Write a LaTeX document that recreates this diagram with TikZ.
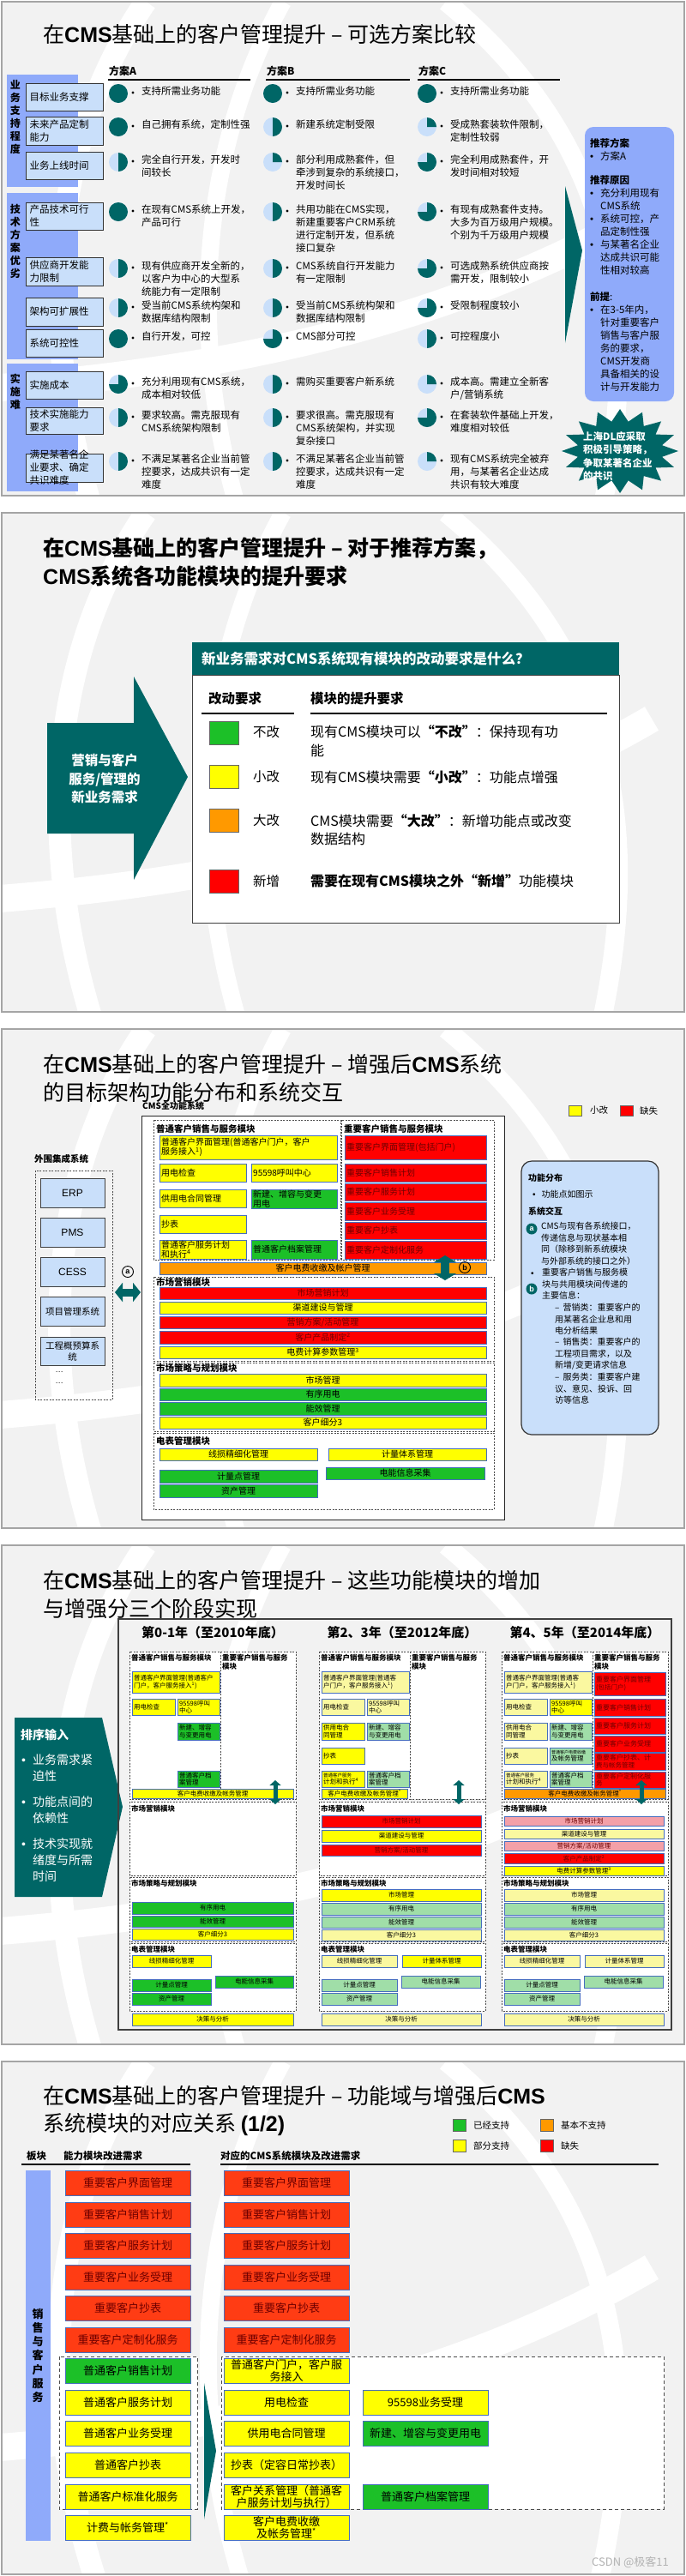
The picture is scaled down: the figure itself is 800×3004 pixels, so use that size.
\documentclass[tikz,border=0pt]{standalone}
\usepackage{fontspec}
\setmainfont{Noto Sans CJK SC}
\newfontfamily\arialf{Liberation Sans}
\usetikzlibrary{arrows.meta}
\definecolor{tl}{RGB}{0,102,102}
\definecolor{slidebg}{RGB}{242,242,242}
\definecolor{slideln}{RGB}{165,165,165}
\definecolor{peri}{RGB}{143,170,250}
\definecolor{lb}{RGB}{201,223,250}
\definecolor{yl}{RGB}{255,255,0}
\definecolor{gr}{RGB}{28,192,40}
\definecolor{rd}{RGB}{255,0,0}
\definecolor{org}{RGB}{255,153,0}
\definecolor{ror}{RGB}{255,60,20}
\definecolor{pyl}{RGB}{250,248,160}
\definecolor{pgr}{RGB}{160,222,168}
\definecolor{prd}{RGB}{244,160,168}
\definecolor{bbd}{RGB}{70,110,190}
\definecolor{rdt}{RGB}{110,0,0}
\newcommand\fz[2]{\fontsize{#1}{#2}\selectfont}
\newcommand\bul{{\arialf\textbullet}}
\newcommand\cms{{\arialf\bfseries CMS}}
\newcommand\mifont{\fz{10}{11}}
\newcommand\hbx[4]{\coordinate (#1) at (#2,#3);\fill[lb] (#1) circle (11);%
\ifcase#4\or\fill[tl] (#1) -- ++(0,-11) arc(-90:0:11) -- cycle;%
\or\fill[tl] (#1) -- ++(0,-11) arc(-90:90:11) -- cycle;%
\or\fill[tl] (#1) -- ++(0,-11) arc(-90:180:11) -- cycle;%
\or\fill[tl] (#1) circle (11);\fi}
\newcommand\opt[5]{\hbx{#1b}{#2}{#3}{#4}\fill ({#2+17},{#3-1}) circle (1.6);%
\node[body,anchor=north west] (#1) at ({#2+27},{#3-8}) {#5};}
\newcommand\crit[4]{\node[critbox,minimum height={#3-#2}] (#1) at (75,{(#2+#3)/2}) {};%
\node[crittxt,anchor=west] (#1t) at ([xshift=5]#1.west) {#4};}
\newcommand\bx[8]{\node[mibox,#2,minimum width={#5-#3},minimum height={#6-#4}] (#1) at ({(#3+#5)/2},{(#4+#6)/2}) {};%
\if l#8\node[mitxt,#2,fill=none,draw=none,anchor=west] (#1t) at ([xshift=2]#1.west) {#7};%
\else\node[mitxt,#2,fill=none,draw=none,align=center] (#1t) at (#1.center) {#7};\fi}
\newcommand\phaseframe[1]{%
\draw[dmod] (0,1926) rectangle (106,2098);
\draw[dmod] (106,1926) rectangle (194,2098);
\draw[dmod] (0,2101) rectangle (194,2187);
\draw[dmod] (0,2189) rectangle (194,2264);
\draw[dmod] (0,2266) rectangle (194,2345);
\node[mt4] (#1m1) at (2,1929) {普通客户销售与服务模块};
\node[mt4] (#1m2) at (108,1929) {重要客户销售与服务\\模块};
\node[mt4] (#1m3) at (2,2105) {市场营销模块};
\node[mt4] (#1m4) at (2,2192) {市场策略与规划模块};
\node[mt4] (#1m5) at (2,2269) {电表管理模块};}
\begin{document}
\begin{tikzpicture}[x=1pt,y=-1pt,
 ttl/.style={font=\fz{25}{32},inner sep=0,anchor=west},
 body/.style={font=\fz{11.5}{15},inner sep=0,align=left},
 hdr/.style={font=\bfseries\fz{12}{14},inner sep=0,anchor=west},
 vt/.style={font=\bfseries\fz{12}{15},inner sep=0,align=center,anchor=north},
 critbox/.style={draw=black!80,line width=1,fill=lb,minimum width=90,inner sep=0},
 crittxt/.style={font=\fz{11.5}{15},inner sep=0,align=left},
 mibox/.style={draw=bbd,line width=0.7,inner sep=0,outer sep=0},
 mitxt/.style={font=\mifont,inner sep=0,align=left},
 dmod/.style={draw=black!70,line width=0.7,dash pattern=on 2pt off 1.5pt,fill=white},
 dmodn/.style={draw=black!70,line width=0.7,dash pattern=on 2pt off 1.5pt},
 mt3/.style={font=\bfseries\fz{10.5}{12},inner sep=0,anchor=west},
 mt4/.style={font=\bfseries\fz{8.5}{10},inner sep=0,align=left,anchor=north west},
 sw/.style={draw=black!60,line width=0.6,inner sep=0},
 lgt/.style={font=\fz{10.5}{12},inner sep=0,anchor=west},
 ib/.style={font=\fz{10}{13.5},inner sep=0,align=left},
 ph/.style={font=\bfseries\fz{15}{18},inner sep=0},
 cY/.style={fill=yl}, cG/.style={fill=gr}, cR/.style={fill=rd,text=rdt}, cO/.style={fill=org},
 cPY/.style={fill=pyl}, cPG/.style={fill=pgr}, cPR/.style={fill=prd,text=rdt}, cRO/.style={fill=ror,text=rdt},
 dblh/.style={draw=tl,line width=9,{Triangle[length=9pt,width=22pt]}-{Triangle[length=9pt,width=22pt]}},
 dblb/.style={draw=tl,line width=10,{Triangle[length=8pt,width=26pt]}-{Triangle[length=8pt,width=26pt]}},
 dblv/.style={draw=tl,line width=5,{Triangle[length=6pt,width=13pt]}-{Triangle[length=6pt,width=13pt]}}
]
\useasboundingbox (0,0) rectangle (800,3004);
\fill[white] (0,0) rectangle (800,3004);
% ---------- slide backgrounds ----------
\foreach \ta/\tb in {2/578,598/1180,1200/1782,1802/2384,2404/3002}{
 \fill[slidebg] (2,\ta) rectangle (798,\tb);
 \begin{scope}
 \clip (2,\ta) rectangle (798,\tb);
 \draw[white,line width=26] (170,\ta) .. controls (60,{\ta+160}) and (40,{\ta+380}) .. (110,{\ta+600});
 \draw[white,line width=20] (330,\ta) .. controls (230,{\ta+180}) and (220,{\ta+400}) .. (280,{\ta+600});
 \draw[white,line width=32] (0,{\ta+450}) .. controls (250,{\ta+430}) and (520,{\ta+380}) .. (760,{\ta+240});
 \draw[white,line width=22] (520,\ta) .. controls (690,{\ta+140}) and (760,{\ta+330}) .. (700,{\ta+600});
 \end{scope}
 \draw[slideln,line width=2] (2,\ta) rectangle (798,\tb);
}
% =============== SLIDE 1 ===============
\node[ttl] (t1) at (50,40) {在\cms 基础上的客户管理提升 – 可选方案比较};
\node[hdr] (hA) at (127,83) {方案A};
\node[hdr] (hB) at (311,83) {方案B};
\node[hdr] (hC) at (488,83) {方案C};
\draw[line width=1.3] (126,93) -- (292,93);
\draw[line width=1.3] (310,93) -- (478,93);
\draw[line width=1.3] (487,93) -- (653,93);
\fill[peri] (8,87) rectangle (91,218);
\fill[peri] (8,225) rectangle (91,419);
\fill[peri] (8,424) rectangle (91,573);
\node[vt] (g1) at (18,93) {业\\务\\支\\持\\程\\度};
\node[vt] (g2) at (18,238) {技\\术\\方\\案\\优\\劣};
\node[vt] (g3) at (18,436) {实\\施\\难};
\crit{k1}{97}{129}{目标业务支撑}
\crit{k2}{136}{169}{未来产品定制\\能力}
\crit{k3}{177}{209}{业务上线时间}
\crit{k4}{236}{268}{产品技术可行\\性}
\crit{k5}{300}{333}{供应商开发能\\力限制}
\crit{k6}{347}{380}{架构可扩展性}
\crit{k7}{384}{416}{系统可控性}
\crit{k8}{433}{465}{实施成本}
\crit{k9}{475}{506}{技术实施能力\\要求}
\node[critbox,minimum height=33] (k10) at (75,545.5) {};
\node[crittxt,anchor=west] (k10t) at ([xshift=5]k10.west) {满足某著名企\\业要求、确定\\共识难度};
\opt{a1}{138}{109}{4}{支持所需业务功能}
\opt{b1}{318}{109}{4}{支持所需业务功能}
\opt{c1}{498}{109}{4}{支持所需业务功能}
\opt{a2}{138}{148}{4}{自己拥有系统，定制性强}
\opt{b2}{318}{148}{2}{新建系统定制受限}
\opt{c2}{498}{148}{1}{受成熟套装软件限制，\\定制性较弱}
\opt{a3}{138}{189}{2}{完全自行开发，开发时\\间较长}
\opt{b3}{318}{189}{1}{部分利用成熟套件，但\\牵涉到复杂的系统接口，\\开发时间长}
\opt{c3}{498}{189}{3}{完全利用成熟套件，开\\发时间相对较短}
\opt{a4}{138}{247}{4}{在现有CMS系统上开发，\\产品可行}
\opt{b4}{318}{247}{2}{共用功能在CMS实现，\\新建重要客户CRM系统\\进行定制开发，但系统\\接口复杂}
\opt{c4}{498}{247}{3}{有现有成熟套件支持。\\大多为百万级用户规模。\\个别为千万级用户规模}
\opt{a5}{138}{313}{2}{现有供应商开发全新的，\\以客户为中心的大型系\\统能力有一定限制}
\opt{b5}{318}{313}{2}{CMS系统自行开发能力\\有一定限制}
\opt{c5}{498}{313}{3}{可选成熟系统供应商按\\需开发，限制较小}
\opt{a6}{138}{359}{2}{受当前CMS系统构架和\\数据库结构限制}
\opt{b6}{318}{359}{2}{受当前CMS系统构架和\\数据库结构限制}
\opt{c6}{498}{359}{3}{受限制程度较小}
\opt{a7}{138}{395}{4}{自行开发，可控}
\opt{b7}{318}{395}{3}{CMS部分可控}
\opt{c7}{498}{395}{2}{可控程度小}
\opt{a8}{138}{448}{3}{充分利用现有CMS系统，\\成本相对较低}
\opt{b8}{318}{448}{2}{需购买重要客户新系统}
\opt{c8}{498}{448}{1}{成本高。需建立全新客\\户/营销系统}
\opt{a9}{138}{487}{2}{要求较高。需克服现有\\CMS系统架构限制}
\opt{b9}{318}{487}{2}{要求很高。需克服现有\\CMS系统架构，并实现\\复杂接口}
\opt{c9}{498}{487}{3}{在套装软件基础上开发，\\难度相对较低}
\opt{a10}{138}{538}{2}{不满足某著名企业当前管\\控要求，达成共识有一定\\难度}
\opt{b10}{318}{538}{2}{不满足某著名企业当前管\\控要求，达成共识有一定\\难度}
\opt{c10}{498}{538}{1}{现有CMS系统完全被弃\\用，与某著名企业达成\\共识有较大难度}
\fill[tl] (659,217) -- (679,292) -- (659,400) -- cycle;
\node[fill=peri,rounded corners=10,minimum width=104,minimum height=320,inner sep=0] (rec) at (734,308) {};
\node[body,anchor=north west] (rect) at (688,161) {\textbf{推荐方案}\\
\makebox[12pt][l]{\bul}方案A\\[13pt]
\textbf{推荐原因}\\
\makebox[12pt][l]{\bul}充分利用现有\\
\hspace*{12pt}CMS系统\\
\makebox[12pt][l]{\bul}系统可控，产\\
\hspace*{12pt}品定制性强\\
\makebox[12pt][l]{\bul}与某著名企业\\
\hspace*{12pt}达成共识可能\\
\hspace*{12pt}性相对较高\\[16pt]
\textbf{前提}:\\
\makebox[12pt][l]{\bul}在3-5年内，\\
\hspace*{12pt}针对重要客户\\
\hspace*{12pt}销售与客户服\\
\hspace*{12pt}务的要求，\\
\hspace*{12pt}CMS开发商\\
\hspace*{12pt}具备相关的设\\
\hspace*{12pt}计与开发能力};
\fill[tl] plot[variable=\k,samples at={0,...,31}] ({723+(mod(\k,2)==0?68:50)*cos(\k*11.25)},{526+(mod(\k,2)==0?49:35)*sin(\k*11.25)}) -- cycle;
\node[font=\bfseries\fz{11.5}{15.5},text=white,inner sep=0,align=left,anchor=north west] (star) at (680,503) {上海DL应采取\\积极引导策略，\\争取某著名企业\\的共识};
% =============== SLIDE 2 ===============
\node[ttl,font=\bfseries\fz{25}{32}] (t2a) at (50,640) {在\cms 基础上的客户管理提升 – 对于推荐方案，};
\node[ttl,font=\bfseries\fz{25}{32}] (t2b) at (50,672) {\cms 系统各功能模块的提升要求};
\fill[tl] (55,843) -- (156,843) -- (156,789) -- (219,906) -- (156,1026) -- (156,972) -- (55,972) -- cycle;
\node[font=\bfseries\fz{15.5}{21.5},text=white,align=center,inner sep=0] (arr2) at (122,908) {营销与客户\\服务/管理的\\新业务需求};
\node[fill=tl,minimum width=498,minimum height=38,inner sep=0] (h2) at (473,768) {};
\node[font=\bfseries\fz{16.5}{18},text=white,inner sep=0,anchor=west] (h2t) at (235,768) {新业务需求对CMS系统现有模块的改动要求是什么？};
\node[draw=black!75,line width=1,fill=white,minimum width=498,minimum height=289,inner sep=0] (b2) at (473,931.5) {};
\node[font=\bfseries\fz{15.5}{18},inner sep=0,anchor=west] (c2a) at (243,815) {改动要求};
\node[font=\bfseries\fz{15.5}{18},inner sep=0,anchor=west] (c2b) at (362,815) {模块的提升要求};
\draw[line width=1.5] (235,832) -- (343,832);
\draw[line width=1.5] (362,832) -- (708,832);
\node[sw,fill=gr,minimum width=34,minimum height=27] (q1) at (261,854.5) {};
\node[font=\fz{15.5}{18},inner sep=0,anchor=west] (q1l) at (295,854) {不改};
\node[font=\fz{16}{22},inner sep=0,anchor=north west,align=left] (q1t) at (362,845) {现有CMS模块可以\textbf{“不改”}：保持现有功\\能};
\node[sw,fill=yl,minimum width=34,minimum height=27] (q2) at (261,906) {};
\node[font=\fz{15.5}{18},inner sep=0,anchor=west] (q2l) at (295,906) {小改};
\node[font=\fz{16}{22},inner sep=0,anchor=north west,align=left] (q2t) at (362,898) {现有CMS模块需要\textbf{“小改”}：功能点增强};
\node[sw,fill=org,minimum width=34,minimum height=27] (q3) at (261,956.5) {};
\node[font=\fz{15.5}{18},inner sep=0,anchor=west] (q3l) at (295,957) {大改};
\node[font=\fz{16}{21},inner sep=0,anchor=north west,align=left] (q3t) at (362,949) {CMS模块需要\textbf{“大改”}：新增功能点或改变\\数据结构};
\node[sw,fill=rd,minimum width=34,minimum height=27] (q4) at (261,1027.5) {};
\node[font=\fz{15.5}{18},inner sep=0,anchor=west] (q4l) at (295,1028) {新增};
\node[font=\fz{16}{22},inner sep=0,anchor=north west,align=left] (q4t) at (362,1019) {\textbf{需要在现有CMS模块之外“新增”}功能模块};
% =============== SLIDE 3 ===============
\renewcommand\mifont{\fz{10}{11}}
\node[ttl] (t3a) at (50,1241) {在\cms 基础上的客户管理提升 – 增强后\cms 系统};
\node[ttl] (t3b) at (50,1274) {的目标架构功能分布和系统交互};
\node[sw,fill=yl,minimum width=15,minimum height=12] (lg1) at (670.5,1295) {};
\node[lgt] (lg1t) at (688,1295) {小改};
\node[sw,fill=rd,minimum width=15,minimum height=12] (lg2) at (730.5,1295) {};
\node[lgt] (lg2t) at (746,1295) {缺失};
\node[mt3] (ext) at (40,1351) {外围集成系统};
\draw[dmodn] (41,1365) rectangle (131,1632);
\node[draw=black!75,line width=1,fill=lb,minimum width=75,minimum height=34,inner sep=0,font=\arialf\fz{12}{13}] (erp) at (84.5,1391.5) {ERP};
\node[draw=black!75,line width=1,fill=lb,minimum width=75,minimum height=34,inner sep=0,font=\arialf\fz{12}{13}] (pms) at (84.5,1437) {PMS};
\node[draw=black!75,line width=1,fill=lb,minimum width=75,minimum height=34,inner sep=0,font=\arialf\fz{12}{13}] (cess) at (84.5,1483) {CESS};
\node[draw=black!75,line width=1,fill=lb,minimum width=75,minimum height=34,inner sep=0,font=\fz{10.5}{12}] (xm) at (84.5,1529) {项目管理系统};
\node[draw=black!75,line width=1,fill=lb,minimum width=75,minimum height=33,inner sep=0,font=\fz{10.5}{13},align=center] (gc) at (84.5,1575.5) {工程概预算系\\统};
\node[font=\fz{8}{8},inner sep=0] (dot1) at (69,1600) {…};
\node[font=\fz{8}{8},inner sep=0] (dot2) at (69,1613) {…};
\node[circle,draw,line width=0.9,inner sep=0,minimum size=13,font=\arialf\bfseries\fz{9}{9}] (ca) at (149,1483) {a};
\coordinate (aL) at (134,1507); \coordinate (aR) at (164,1507);
\draw[dblh] (aL) -- (aR);
\node[font=\bfseries\fz{10}{11},inner sep=0,anchor=west] (cmsl) at (166,1290) {CMS全功能系统};
\node[draw=black!85,line width=1,fill=white,minimum width=423,minimum height=471,inner sep=0] (cms) at (376.5,1536.5) {};
\draw[dmod] (179,1306) rectangle (397,1469);
\draw[dmod] (398,1306) rectangle (576,1469);
\node[mt3] (m31) at (182,1316) {普通客户销售与服务模块};
\node[mt3] (m32) at (401,1316) {重要客户销售与服务模块};
\bx{s3a}{cY}{186}{1324}{393}{1352}{普通客户界面管理(普通客户门户，客户\\服务接入\textsuperscript{1})}{l}
\bx{s3b}{cY}{186}{1357}{287}{1378}{用电检查}{l}
\bx{s3c}{cY}{293}{1357}{393}{1378}{95598呼叫中心}{l}
\bx{s3d}{cY}{186}{1387}{287}{1408}{供用电合同管理}{l}
\bx{s3e}{cG}{293}{1387}{393}{1409}{新建、增容与变更\\用电}{l}
\bx{s3f}{cY}{186}{1417}{287}{1438}{抄表}{l}
\bx{s3g}{cY}{186}{1446}{287}{1468}{普通客户服务计划\\和执行\textsuperscript{4}}{l}
\bx{s3h}{cG}{293}{1446}{393}{1468}{普通客户档案管理}{l}
\bx{s3i}{cR}{402}{1324}{567}{1352}{重要客户界面管理(包括门户)}{l}
\bx{s3j}{cR}{402}{1357}{567}{1378}{重要客户销售计划}{l}
\bx{s3k}{cR}{402}{1380}{567}{1400}{重要客户服务计划}{l}
\bx{s3l}{cR}{402}{1402}{567}{1423}{重要客户业务受理}{l}
\bx{s3m}{cR}{402}{1425}{567}{1445}{重要客户抄表}{l}
\bx{s3n}{cR}{402}{1447}{567}{1468}{重要客户定制化服务}{l}
\bx{s3o}{cO}{186}{1472}{567}{1486}{客户电费收缴及帐户管理}{c}
\draw[dmod] (179,1489) rectangle (576,1587);
\node[mt3] (m33) at (182,1495) {市场营销模块};
\bx{s3p}{cR}{186}{1501}{567}{1515}{市场营销计划}{c}
\bx{s3q}{cY}{186}{1518}{567}{1532}{渠道建设与管理}{c}
\bx{s3r}{cR}{186}{1535}{567}{1549}{营销方案/活动管理}{c}
\bx{s3s}{cR}{186}{1552}{567}{1567}{客户产品制定\textsuperscript{2}}{c}
\bx{s3t}{cY}{186}{1570}{567}{1584}{电费计算参数管理\textsuperscript{3}}{c}
\draw[dmod] (179,1589) rectangle (576,1669);
\node[mt3] (m34) at (182,1595) {市场策略与规划模块};
\bx{s3u}{cY}{186}{1602}{567}{1617}{市场管理}{c}
\bx{s3v}{cG}{186}{1619}{567}{1633}{有序用电}{c}
\bx{s3w}{cG}{186}{1635}{567}{1650}{能效管理}{c}
\bx{s3x}{cY}{186}{1652}{567}{1666}{客户细分3}{c}
\draw[dmod] (179,1671) rectangle (576,1760);
\node[mt3] (m35) at (182,1680) {电表管理模块};
\bx{s3y}{cY}{186}{1689}{370}{1703}{线损精细化管理}{c}
\bx{s3z}{cY}{383}{1689}{567}{1703}{计量体系管理}{c}
\bx{s3aa}{cG}{186}{1714}{370}{1729}{计量点管理}{c}
\bx{s3ab}{cG}{380}{1711}{565}{1725}{电能信息采集}{c}
\bx{s3ac}{cG}{186}{1731}{370}{1746}{资产管理}{c}
\coordinate (bT) at (519,1464); \coordinate (bB) at (519,1493);
\draw[dblb] (bT) -- (bB);
\node[circle,draw,line width=0.9,inner sep=0,minimum size=13,font=\arialf\bfseries\fz{9}{9}] (cb) at (542,1478) {b};
\node[draw=black!80,line width=1.2,fill=lb,rounded corners=12,minimum width=160,minimum height=319,inner sep=0] (info) at (688,1513.5) {};
\node[ib,anchor=west] (i1) at (616,1374) {\textbf{功能分布}};
\node[ib,anchor=west] (i2) at (621,1393) {\bul\hspace{7pt}功能点如图示};
\node[ib,anchor=west] (i3) at (616,1413) {\textbf{系统交互}};
\node[circle,fill=tl,text=white,inner sep=0,minimum size=13,font=\arialf\bfseries\fz{9}{9}] (ia) at (620,1433) {a};
\node[ib,anchor=north west] (i4) at (631,1425) {CMS与现有各系统接口，\\传递信息与现状基本相\\同（除移到新系统模块\\与外部系统的接口之外）};
\node[ib,anchor=west] (i5b) at (619,1486) {\bul};
\node[circle,fill=tl,text=white,inner sep=0,minimum size=13,font=\arialf\bfseries\fz{9}{9}] (ib2) at (620,1503) {b};
\node[ib,anchor=north west] (i5) at (632,1479) {重要客户销售与服务模\\块与共用模块间传递的\\主要信息：};
\node[ib,anchor=north west] (i6) at (647,1520) {–\hspace{4pt}营销类：重要客户的\\用某著名企业息和用\\电分析结果};
\node[ib,anchor=north west] (i7) at (647,1560) {–\hspace{4pt}销售类：重要客户的\\工程项目需求，以及\\新增/变更请求信息};
\node[ib,anchor=north west] (i8) at (647,1601) {–\hspace{4pt}服务类：重要客户建\\议、意见、投诉、回\\访等信息};
% =============== SLIDE 4 ===============
\renewcommand\mifont{\fz{7.5}{8.5}}
\node[ttl] (t4a) at (50,1843) {在\cms 基础上的客户管理提升 – 这些功能模块的增加};
\node[ttl] (t4b) at (50,1876) {与增强分三个阶段实现};
\fill[tl] (17,2003) -- (119,2003) -- (143,2107) -- (119,2212) -- (17,2212) -- cycle;
\node[font=\bfseries\fz{14}{16},text=white,inner sep=0,anchor=west] (s4h) at (24,2023) {排序输入};
\node[font=\fz{14}{19},text=white,inner sep=0,align=left,anchor=north west] (s4b) at (25,2045) {\makebox[13pt][l]{\bul}业务需求紧\\\hspace*{13pt}迫性\\[11pt]\makebox[13pt][l]{\bul}功能点间的\\\hspace*{13pt}依赖性\\[11pt]\makebox[13pt][l]{\bul}技术实现就\\\hspace*{13pt}绪度与所需\\\hspace*{13pt}时间};
\node[draw=black!75,line width=1.2,minimum width=645,minimum height=479,inner sep=0] (s4box) at (460.5,2127.5) {};
\begin{scope}[xshift=151]
\phaseframe{p1}
\node[ph] (p1hd) at (97,1904) {第0-1年（至2010年底）};
\bx{p1a}{cY}{3}{1949}{105}{1974}{普通客户界面管理(普通客户\\门户，客户服务接入\textsuperscript{1})}{l}
\bx{p1b}{cY}{3}{1981}{53}{2000}{用电检查}{l}
\bx{p1c}{cY}{56}{1981}{105}{2000}{95598呼叫\\中心}{l}
\bx{p1d}{cG}{56}{2009}{105}{2029}{新建、增容\\与变更用电}{l}
\bx{p1e}{cG}{56}{2065}{105}{2084}{普通客户档\\案管理}{l}
\bx{p1f}{cY}{3}{2086}{191}{2097}{客户电费收缴及帐务管理}{c}
\coordinate (p1u) at (170,2076); \coordinate (p1w) at (170,2104);
\draw[dblv] (p1u) -- (p1w);
\bx{p1g}{cG}{3}{2218}{191}{2232}{有序用电}{c}
\bx{p1h}{cG}{3}{2234}{191}{2247}{能效管理}{c}
\bx{p1i}{cY}{3}{2249}{191}{2262}{客户细分3}{c}
\bx{p1j}{cY}{3}{2280}{95}{2294}{线损精细化管理}{c}
\bx{p1k}{cG}{3}{2308}{95}{2322}{计量点管理}{c}
\bx{p1l}{cG}{3}{2324}{95}{2338}{资产管理}{c}
\bx{p1m}{cG}{100}{2304}{191}{2318}{电能信息采集}{c}
\bx{p1n}{cY}{3}{2348}{191}{2362}{决策与分析}{c}
\end{scope}
\begin{scope}[xshift=372]
\phaseframe{p2}
\node[ph] (p2hd) at (97,1904) {第2、3年（至2012年底）};
\bx{p2a}{cPY}{3}{1949}{105}{1974}{普通客户界面管理(普通客\\户门户，客户服务接入\textsuperscript{1})}{l}
\bx{p2b}{cPY}{3}{1981}{53}{2000}{用电检查}{l}
\bx{p2c}{cPY}{56}{1981}{105}{2000}{95598呼叫\\中心}{l}
\bx{p2d}{cY}{3}{2009}{53}{2029}{供用电合\\同管理}{l}
\bx{p2e}{cPG}{56}{2009}{105}{2029}{新建、增容\\与变更用电}{l}
\bx{p2f}{cY}{3}{2038}{53}{2057}{抄表}{l}
\bx{p2g}{cY}{3}{2065}{53}{2084}{\fz{5.5}{6.5}普通客户服务\\计划和执行\textsuperscript{4}}{l}
\bx{p2h}{cPG}{56}{2065}{105}{2084}{普通客户档\\案管理}{l}
\bx{p2i}{cY}{3}{2086}{103}{2097}{客户电费收缴及帐务管理\textsuperscript{*}}{c}
\coordinate (p2u) at (163,2076); \coordinate (p2w) at (163,2104);
\draw[dblv] (p2u) -- (p2w);
\bx{p2j}{cR}{3}{2117}{189}{2131}{市场营销计划}{c}
\bx{p2k}{cY}{3}{2134}{189}{2148}{渠道建设与管理}{c}
\bx{p2l}{cR}{3}{2151}{189}{2164}{营销方案/活动管理}{c}
\bx{p2m}{cY}{3}{2203}{189}{2217}{市场管理}{c}
\bx{p2n}{cPG}{3}{2219}{189}{2233}{有序用电}{c}
\bx{p2o}{cPG}{3}{2235}{189}{2248}{能效管理}{c}
\bx{p2p}{cPY}{3}{2250}{189}{2263}{客户细分3}{c}
\bx{p2q}{cPY}{3}{2280}{91}{2294}{线损精细化管理}{c}
\bx{p2r}{cY}{97}{2280}{189}{2294}{计量体系管理}{c}
\bx{p2s}{cPG}{3}{2308}{91}{2322}{计量点管理}{c}
\bx{p2t}{cPG}{3}{2324}{91}{2338}{资产管理}{c}
\bx{p2v}{cPG}{96}{2304}{188}{2318}{电能信息采集}{c}
\bx{p2w2}{cPY}{3}{2348}{189}{2362}{决策与分析}{c}
\end{scope}
\begin{scope}[xshift=585]
\phaseframe{p3}
\node[ph] (p3hd) at (97,1904) {第4、5年（至2014年底）};
\bx{p3a}{cPY}{3}{1949}{105}{1974}{普通客户界面管理(普通客\\户门户，客户服务接入\textsuperscript{1})}{l}
\bx{p3b}{cPY}{3}{1981}{53}{2000}{用电检查}{l}
\bx{p3c}{cY}{56}{1981}{105}{2000}{95598呼叫\\中心}{l}
\bx{p3d}{cPY}{3}{2009}{53}{2029}{供用电合\\同管理}{l}
\bx{p3e}{cPG}{56}{2009}{105}{2029}{新建、增容\\与变更用电}{l}
\bx{p3f}{cPY}{3}{2038}{53}{2057}{抄表}{l}
\bx{p3g}{cPG}{56}{2038}{105}{2057}{\fz{5}{6}普通客户电费收缴\\及帐务管理}{l}
\bx{p3h}{cPY}{3}{2065}{53}{2084}{\fz{5.5}{6.5}普通客户服务\\计划和执行\textsuperscript{4}}{l}
\bx{p3i}{cPG}{56}{2065}{105}{2084}{普通客户档\\案管理}{l}
\bx{p3k}{cR}{108}{1950}{191}{1977}{\fz{8}{9}重要客户界面管理\\(包括门户)}{l}
\bx{p3l}{cR}{108}{1981}{191}{2001}{\fz{8}{9}重要客户销售计划}{l}
\bx{p3m}{cR}{108}{2003}{191}{2022}{\fz{8}{9}重要客户服务计划}{l}
\bx{p3n}{cR}{108}{2024}{191}{2043}{\fz{8}{9}重要客户业务受理}{l}
\bx{p3o}{cR}{108}{2044}{191}{2064}{\fz{8}{9}重要客户抄表、计\\费与帐务管理}{l}
\bx{p3p}{cR}{108}{2066}{191}{2085}{\fz{8}{9}重要客户定制化服\\务}{l}
\bx{p3j}{cO}{3}{2086}{191}{2097}{客户电费收缴及帐务管理\textsuperscript{*}}{c}
\coordinate (p3u) at (163,2076); \coordinate (p3w) at (163,2104);
\draw[dblv] (p3u) -- (p3w);
\bx{p3q}{cPR}{3}{2118}{189}{2129}{市场营销计划}{c}
\bx{p3r}{cPY}{3}{2133}{189}{2144}{渠道建设与管理}{c}
\bx{p3s}{cPR}{3}{2147}{189}{2158}{营销方案/活动管理}{c}
\bx{p3t}{cR}{3}{2161}{189}{2173}{客户产品制定\textsuperscript{2}}{c}
\bx{p3v0}{cY}{3}{2176}{189}{2187}{电费计算参数管理\textsuperscript{3}}{c}
\bx{p3v}{cPY}{3}{2203}{189}{2217}{市场管理}{c}
\bx{p3w2}{cPG}{3}{2219}{189}{2233}{有序用电}{c}
\bx{p3x}{cPG}{3}{2235}{189}{2248}{能效管理}{c}
\bx{p3y}{cPY}{3}{2250}{189}{2263}{客户细分3}{c}
\bx{p3z}{cPY}{3}{2280}{91}{2294}{线损精细化管理}{c}
\bx{p3aa}{cPY}{97}{2280}{189}{2294}{计量体系管理}{c}
\bx{p3ab}{cPG}{3}{2308}{91}{2322}{计量点管理}{c}
\bx{p3ac}{cPG}{3}{2324}{91}{2338}{资产管理}{c}
\bx{p3ad}{cPG}{96}{2304}{188}{2318}{电能信息采集}{c}
\bx{p3ae}{cPY}{3}{2348}{189}{2362}{决策与分析}{c}
\end{scope}
% =============== SLIDE 5 ===============
\renewcommand\mifont{\fz{13}{14.5}}
\node[ttl] (t5a) at (50,2444) {在\cms 基础上的客户管理提升 – 功能域与增强后\cms};
\node[ttl] (t5b) at (50,2477) {系统模块的对应关系 {\arialf\bfseries (1/2)}};
\node[sw,fill=gr,minimum width=15,minimum height=14] (l5a) at (535.5,2478) {};
\node[lgt] (l5at) at (552,2478) {已经支持};
\node[sw,fill=org,minimum width=15,minimum height=14] (l5b) at (637.5,2478) {};
\node[lgt] (l5bt) at (654,2478) {基本不支持};
\node[sw,fill=yl,minimum width=15,minimum height=14] (l5c) at (535.5,2502) {};
\node[lgt] (l5ct) at (552,2502) {部分支持};
\node[sw,fill=rd,minimum width=15,minimum height=14] (l5d) at (637.5,2502) {};
\node[lgt] (l5dt) at (654,2502) {缺失};
\node[font=\bfseries\fz{11.5}{13},inner sep=0,anchor=west] (h5a) at (31,2514) {板块};
\node[font=\bfseries\fz{11.5}{13},inner sep=0,anchor=west] (h5b) at (74,2514) {能力模块改进需求};
\node[font=\bfseries\fz{11.5}{13},inner sep=0,anchor=west] (h5c) at (257,2514) {对应的CMS系统模块及改进需求};
\draw[line width=1.2] (25,2524) -- (222,2524);
\draw[line width=1.2] (257,2524) -- (768,2524);
\fill[peri] (30,2531) rectangle (59,2963);
\node[font=\bfseries\fz{13}{16.2},inner sep=0,align=center,anchor=north] (v5) at (44,2692) {销\\售\\与\\客\\户\\服\\务};
\draw[dmodn,line width=1,dash pattern=on 4pt off 3pt,fill=white] (69,2748) rectangle (230,2926);
\draw[dmodn,line width=1,dash pattern=on 4pt off 3pt,fill=white] (258,2748) rectangle (774,2926);
\fill[tl] (238,2779) -- (252,2858) -- (238,2938) -- cycle;
\bx{l1}{cRO}{76}{2531}{222}{2560}{重要客户界面管理}{c}
\bx{l2}{cRO}{76}{2568}{222}{2597}{重要客户销售计划}{c}
\bx{l3}{cRO}{76}{2604}{222}{2633}{重要客户服务计划}{c}
\bx{l4}{cRO}{76}{2641}{222}{2670}{重要客户业务受理}{c}
\bx{l5}{cRO}{76}{2677}{222}{2706}{重要客户抄表}{c}
\bx{l6}{cRO}{76}{2714}{222}{2743}{重要客户定制化服务}{c}
\bx{l7}{cG}{76}{2750}{222}{2779}{普通客户销售计划}{c}
\bx{l8}{cY}{76}{2787}{222}{2816}{普通客户服务计划}{c}
\bx{l9}{cY}{76}{2823}{222}{2852}{普通客户业务受理}{c}
\bx{l10}{cY}{76}{2860}{222}{2889}{普通客户抄表}{c}
\bx{l11}{cY}{76}{2897}{222}{2926}{普通客户标准化服务}{c}
\bx{l12}{cY}{76}{2933}{222}{2962}{计费与帐务管理\textsuperscript{*}}{c}
\bx{r1}{cRO}{261}{2531}{407}{2560}{重要客户界面管理}{c}
\bx{r2}{cRO}{261}{2568}{407}{2597}{重要客户销售计划}{c}
\bx{r3}{cRO}{261}{2604}{407}{2633}{重要客户服务计划}{c}
\bx{r4}{cRO}{261}{2641}{407}{2670}{重要客户业务受理}{c}
\bx{r5}{cRO}{261}{2677}{407}{2706}{重要客户抄表}{c}
\bx{r6}{cRO}{261}{2714}{407}{2743}{重要客户定制化服务}{c}
\bx{r7}{cY}{261}{2750}{407}{2779}{普通客户门户，客户服\\务接入}{c}
\bx{r8}{cY}{261}{2787}{407}{2816}{用电检查}{c}
\bx{r9}{cY}{261}{2823}{407}{2852}{供用电合同管理}{c}
\bx{r10}{cY}{261}{2860}{407}{2889}{抄表（定容日常抄表）}{c}
\bx{r11}{cY}{261}{2897}{407}{2926}{客户关系管理（普通客\\户服务计划与执行）}{c}
\bx{r12}{cY}{261}{2933}{407}{2962}{客户电费收缴\\及帐务管理\textsuperscript{*}}{c}
\bx{x8}{cY}{423}{2787}{569}{2816}{95598业务受理}{c}
\bx{x9}{cG}{423}{2823}{569}{2852}{新建、增容与变更用电}{c}
\bx{x11}{cG}{423}{2897}{569}{2926}{普通客户档案管理}{c}
\node[font=\fz{13}{14},text=black!30,inner sep=0] (wm) at (735,2988) {CSDN @极客11};
\end{tikzpicture}
\end{document}
